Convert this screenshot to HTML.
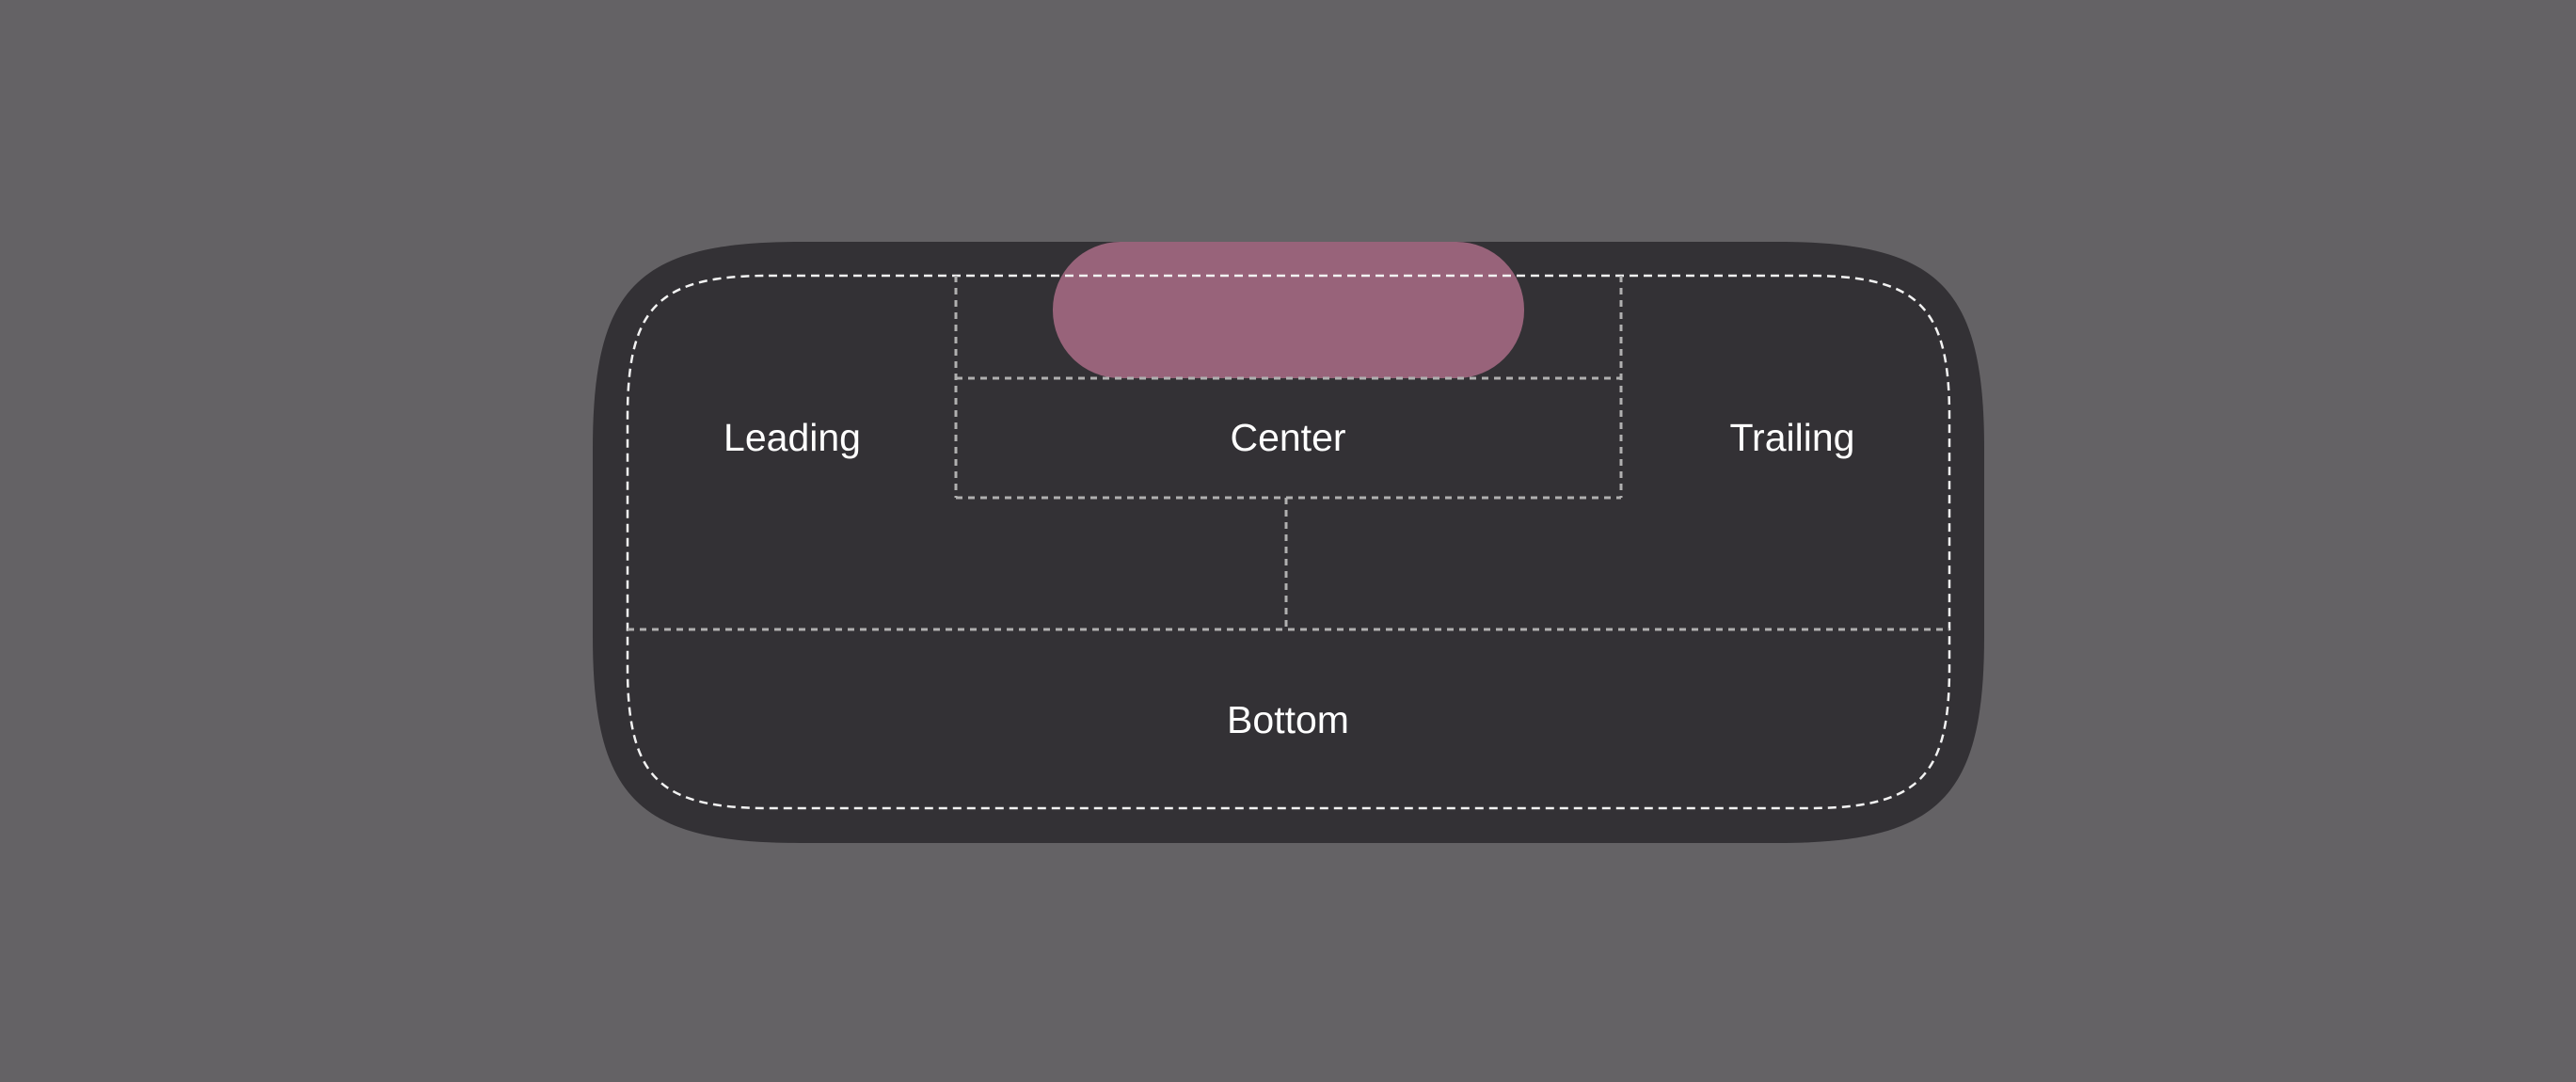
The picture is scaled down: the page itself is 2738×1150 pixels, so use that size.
<!DOCTYPE html>
<html><head><style>
html,body{margin:0;padding:0;background:#646265;width:2738px;height:1150px;overflow:hidden}
svg{display:block}
text{font-family:"Liberation Sans",sans-serif;font-size:41px;fill:#fff;text-anchor:middle;dominant-baseline:central}
</style></head><body>
<svg width="2738" height="1150" viewBox="0 0 2738 1150">
<rect x="0" y="0" width="2738" height="1150" fill="#646265"/>
<!-- outer squircle: x630-2109, y257-896, R=220, k=0.22 -->
<path d="M850,257 H1889 C2061,257 2109,305 2109,477 V676 C2109,848 2061,896 1889,896 H850 C678,896 630,848 630,676 V477 C630,305 678,257 850,257 Z" fill="#333135"/>
<rect x="1119" y="257" width="501" height="145" rx="72" ry="72" fill="#98637a"/>
<!-- inner dashed: x667-2072, y293-859, R=150 -->
<path d="M817,293 H1922 C2039,293 2072,326 2072,443 V709 C2072,826 2039,859 1922,859 H817 C700,859 667,826 667,709 V443 C667,326 700,293 817,293 Z" fill="none" stroke="#f2f2f2" stroke-width="2.5" stroke-dasharray="9 6"/>
<g stroke="#b0b0b0" stroke-width="3" stroke-dasharray="7 6" fill="none">
<line x1="1016" y1="293" x2="1016" y2="529"/>
<line x1="1723" y1="293" x2="1723" y2="529"/>
<line x1="1016" y1="402" x2="1723" y2="402"/>
<line x1="1016" y1="529" x2="1723" y2="529"/>
<line x1="1367" y1="529" x2="1367" y2="669"/>
<line x1="667" y1="669" x2="2072" y2="669"/>
</g>
<text x="842" y="465">Leading</text>
<text x="1369" y="465">Center</text>
<text x="1905" y="465">Trailing</text>
<text x="1369" y="765">Bottom</text>
</svg>
</body></html>
